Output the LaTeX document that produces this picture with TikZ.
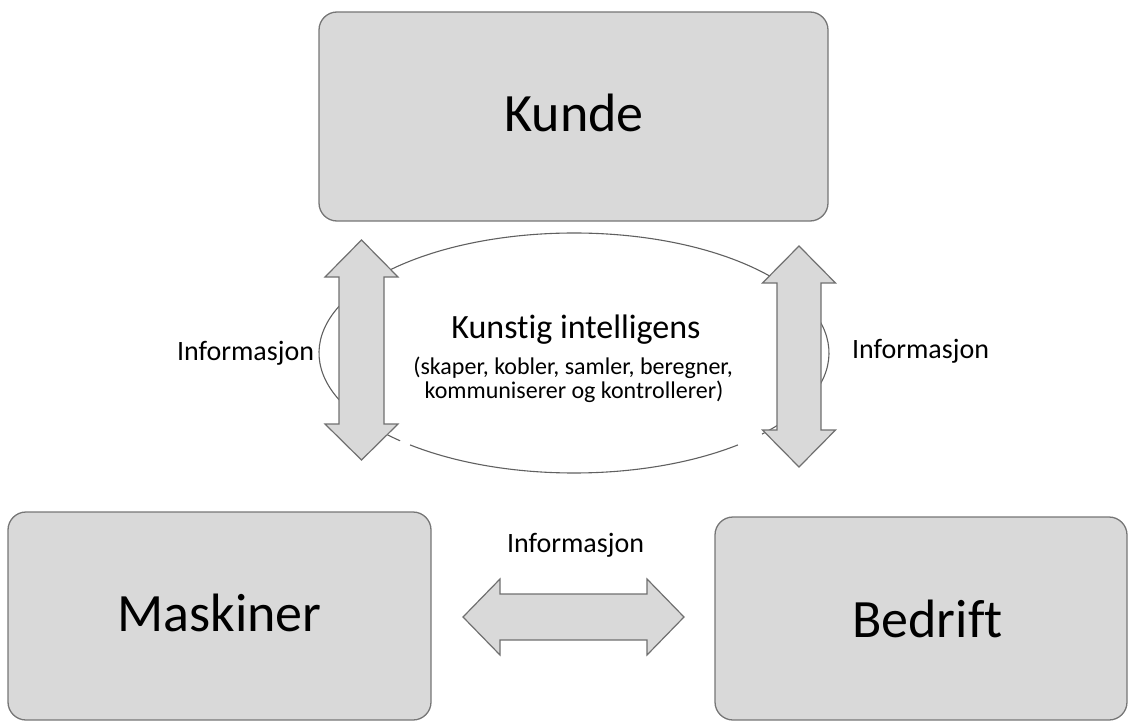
\documentclass[tikz,border=0pt]{standalone}
\usepackage{fontspec}
\setmainfont{Carlito}[Ligatures=NoCommon]
\usetikzlibrary{shapes.geometric}
\definecolor{boxfill}{HTML}{D9D9D9}
\definecolor{boxline}{HTML}{767676}
\definecolor{arrowline}{HTML}{707070}
\definecolor{ellline}{HTML}{606060}
\begin{document}
\begin{tikzpicture}[x=1pt,y=-1pt,
  box/.style={draw=boxline, fill=boxfill, line width=1.3pt, rounded corners=18pt, inner sep=0pt},
  blockarrow/.style={draw=arrowline, fill=boxfill, line width=1.2pt, line join=miter},
  ell/.style={draw=ellline, line width=1.1pt},
  bigtext/.style={font=\fontsize{54}{60}\selectfont, anchor=base, inner sep=0pt},
  infotext/.style={font=\fontsize{28}{32}\selectfont, anchor=base, inner sep=0pt},
  kititle/.style={font=\fontsize{34}{40}\selectfont, anchor=base, inner sep=0pt},
  kisub/.style={font=\fontsize{24}{28}\selectfont, anchor=base, inner sep=0pt}]
\useasboundingbox (0,0) rectangle (1129,722);
% boxes
\node[box, minimum width=509pt, minimum height=209pt] (kunde) at (573.5,116.5) {};
\node[box, minimum width=423pt, minimum height=208pt] (maskiner) at (219.5,616) {};
\node[box, minimum width=412pt, minimum height=203pt] (bedrift) at (921,618.5) {};
\node[bigtext] (kundetxt) at (574,132) {Kunde};
\node[bigtext] (maskinertxt) at (219.5,631) {Maskiner};
\node[bigtext] (bedrifttxt) at (927.5,637) {Bedrift};
% ellipse
\node[ellipse, minimum width=510pt, minimum height=240pt, inner sep=0pt] (ki) at (574,353) {};
\draw[ell] (ki.center) ++(50:255 and 120) arc[start angle=50, end angle=130, x radius=255, y radius=120];
\draw[ell] (ki.center) ++(133:255 and 120) arc[start angle=133, end angle=402.5, x radius=255, y radius=120];
\node[kititle] (kit1) at (576,338) {Kunstig intelligens};
\node[kisub] (kit2) at (573,374) {(skaper, kobler, samler, beregner,};
\node[kisub] (kit3) at (574,398) {kommuniserer og kontrollerer)};
% block arrows
\draw[blockarrow] (361.5,240) -- (398,277) -- (384,277) -- (384,424) -- (398,424) -- (361.5,460)
  -- (325,424) -- (339,424) -- (339,277) -- (325,277) -- cycle;
\draw[blockarrow] (799,246) -- (835.5,283) -- (821,283) -- (821,430) -- (835.5,430) -- (799,467)
  -- (762.5,430) -- (777,430) -- (777,283) -- (762.5,283) -- cycle;
\draw[blockarrow] (463,617) -- (500,579) -- (500,594) -- (647,594) -- (647,579) -- (684,617)
  -- (647,655) -- (647,640) -- (500,640) -- (500,655) -- cycle;
% labels
\node[infotext] (infol) at (245.5,360) {Informasjon};
\node[infotext] (infor) at (920.5,358) {Informasjon};
\node[infotext] (infob) at (575.5,552) {Informasjon};
\end{tikzpicture}
\end{document}
